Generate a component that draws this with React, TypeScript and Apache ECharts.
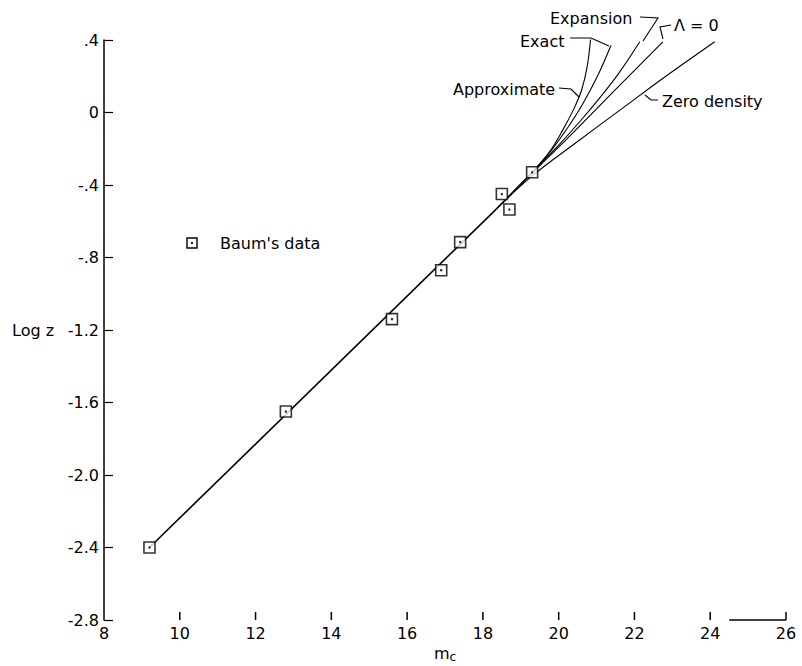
import React, { useEffect, useRef } from 'react';
import * as echarts from 'echarts';

// Axis ticks
const xTicks = [8, 10, 12, 14, 16, 18, 20, 22, 24, 26];
const yTicks = [-2.8, -2.4, -2.0, -1.6, -1.2, -0.8, -0.4, 0, 0.4];

// Baum's data (apparent magnitude m_c vs log z)
const baumM = [9.2, 12.8, 15.6, 16.9, 17.4, 18.5, 18.7, 19.3];
const baumLogZ = [-2.4, -1.65, -1.14, -0.87, -0.715, -0.45, -0.535, -0.33];

// Common part of all theoretical curves
const commonM = [9.2, 18.3];
const commonLogZ = [-2.4, -0.544];

// Branches
const zeroDensityM = [18.3, 19.3, 20.5, 21.5, 22.5, 23.3, 24.12];
const zeroDensityLogZ = [-0.544, -0.35, -0.16, -0.005, 0.15, 0.27, 0.39];

const lambdaZeroM = [18.3, 19.3, 20.2, 21.0, 21.8, 22.75];
const lambdaZeroLogZ = [-0.544, -0.335, -0.15, 0.02, 0.19, 0.39];

const expansionM = [18.3, 19.3, 20.0, 20.6, 21.1, 21.6, 22.14];
const expansionLogZ = [-0.544, -0.33, -0.18, -0.04, 0.085, 0.22, 0.39];

const exactM = [18.3, 19.3, 19.8, 20.2, 20.6, 21.0, 21.38];
const exactLogZ = [-0.544, -0.33, -0.21, -0.095, 0.035, 0.19, 0.37];

const approxM = [18.3, 19.3, 19.75, 20.1, 20.4, 20.6, 20.75, 20.85];
const approxLogZ = [-0.544, -0.33, -0.22, -0.1, 0.02, 0.12, 0.25, 0.42];

// short baseline segment at the bottom right
const baseSegM = [24.5, 26];
const baseSegLogZ = [-2.8, -2.8];

const zip = (a: number[], b: number[]) => a.map((v, i) => [v, b[i]]);

const FONT = 'DejaVu Sans';

const fmtY = (v: number) => {
  const r = Math.round(v * 10) / 10;
  if (r === 0) return '0';
  if (Math.abs(r) < 1) return (r < 0 ? '-' : '') + '.' + Math.round(Math.abs(r) * 10);
  return r.toFixed(1);
};

const lineSeries = (name: string, m: number[], z: number[], width = 1.1) => ({
  name,
  type: 'line',
  data: zip(m, z),
  showSymbol: false,
  symbol: 'none',
  smooth: 0.35,
  lineStyle: { color: '#000', width },
  silent: true,
  z: 2,
});

const txt = (text: string, x: number, y: number, size = 16) => ({
  type: 'text',
  x,
  y,
  style: { text, fill: '#000', fontFamily: FONT, fontSize: size, verticalAlign: 'middle', align: 'left' },
});

const leader = (pts: number[][]) => ({
  type: 'polyline',
  shape: { points: pts },
  style: { stroke: '#000', lineWidth: 1.1, fill: null },
});

export default function App() {
  const ref = useRef<HTMLDivElement>(null);
  useEffect(() => {
    if (!ref.current) return;
    const chart = echarts.init(ref.current, null, { renderer: 'svg' });
    const baseGraphics: any[] = [
      txt('Expansion', 550, 18),
      txt('Exact', 520, 41),
      txt('Approximate', 453, 89),
      txt('Λ = 0', 674, 25),
      txt('Zero density', 662, 101),
      txt("Baum's data", 220, 243),
      txt('Log z', 12, 330),
      {
        type: 'rect',
        shape: { x: 187, y: 238, width: 10, height: 10 },
        style: { fill: '#fff', stroke: '#000', lineWidth: 1.4 },
      },
      { type: 'circle', shape: { cx: 192, cy: 243, r: 1.1 }, style: { fill: '#000' } },
      leader([[640, 17], [658, 18], [643, 41]]),
      leader([[570, 38], [591, 38], [609, 46]]),
      leader([[559, 88], [571, 89], [579, 97]]),
      leader([[671, 25], [660, 27], [663, 39]]),
      leader([[645, 95], [651, 100], [658, 100]]),
    ];
    chart.setOption({
      animation: false,
      backgroundColor: '#fff',
      grid: { left: 104, right: 16, top: 40, bottom: 46, containLabel: false, outerBoundsMode: 'none' },
      xAxis: {
        type: 'value',
        position: 'bottom',
        min: xTicks[0],
        max: xTicks[xTicks.length - 1],
        interval: 2,
        axisLine: { show: false, onZero: false },
        axisTick: { show: false },
        splitLine: { show: false },
        axisLabel: {
          color: '#000',
          fontFamily: FONT,
          fontSize: 16,
          margin: 5,
          showMinLabel: true,
          showMaxLabel: true,
          formatter: (v: number) => String(v),
        },
        name: 'm{c|c}',
        nameLocation: 'middle',
        nameGap: 24,
        nameTextStyle: {
          color: '#000',
          fontFamily: FONT,
          fontSize: 16,
          verticalAlign: 'top',
          rich: { c: { fontFamily: FONT, fontSize: 12, color: '#000', padding: [6, 0, 0, 0] } },
        },
      },
      yAxis: {
        type: 'value',
        min: yTicks[0],
        max: yTicks[yTicks.length - 1],
        interval: 0.4,
        axisLine: { show: true, onZero: false, lineStyle: { color: '#000', width: 1.5 } },
        axisTick: { show: true, inside: true, length: 9, lineStyle: { color: '#000', width: 1.2 } },
        splitLine: { show: false },
        axisLabel: {
          color: '#000',
          fontFamily: FONT,
          fontSize: 16,
          margin: 5,
          showMinLabel: true,
          showMaxLabel: true,
          formatter: fmtY,
        },
      },
      series: [
        lineSeries('common', commonM, commonLogZ, 1.6),
        lineSeries('Zero density', zeroDensityM, zeroDensityLogZ),
        lineSeries('Λ = 0', lambdaZeroM, lambdaZeroLogZ),
        lineSeries('Expansion', expansionM, expansionLogZ),
        lineSeries('Exact', exactM, exactLogZ),
        lineSeries('Approximate', approxM, approxLogZ),
        {
          name: 'baseSeg',
          type: 'line',
          data: zip(baseSegM, baseSegLogZ),
          showSymbol: false,
          symbol: 'none',
          clip: false,
          lineStyle: { color: '#000', width: 1.5 },
          silent: true,
          z: 4,
        },
        {
          name: "Baum's data",
          type: 'scatter',
          data: zip(baumM, baumLogZ),
          symbol: 'rect',
          symbolSize: 11,
          itemStyle: { color: '#fff', borderColor: '#000', borderWidth: 1.6 },
          z: 5,
          silent: true,
        },
        {
          name: 'dots',
          type: 'scatter',
          data: zip(baumM, baumLogZ),
          symbol: 'circle',
          symbolSize: 2.5,
          itemStyle: { color: '#000' },
          z: 6,
          silent: true,
        },
      ],
      graphic: baseGraphics,
    });
    // x-axis ticks placed through the chart's own scale
    const tickGraphics = xTicks.slice(1).map((v) => {
      const p = chart.convertToPixel({ gridIndex: 0 }, [v, yTicks[0]]) as number[];
      return {
        type: 'line',
        z: 100,
        shape: { x1: p[0], y1: p[1], x2: p[0], y2: p[1] - 8 },
        style: { stroke: '#000', lineWidth: 1.5 },
      };
    });
    chart.setOption({ graphic: [...baseGraphics, ...tickGraphics] });
    return () => chart.dispose();
  }, []);
  return <div ref={ref} style={{ position: 'absolute', left: 0, top: 0, width: 802, height: 666 }} />;
}
